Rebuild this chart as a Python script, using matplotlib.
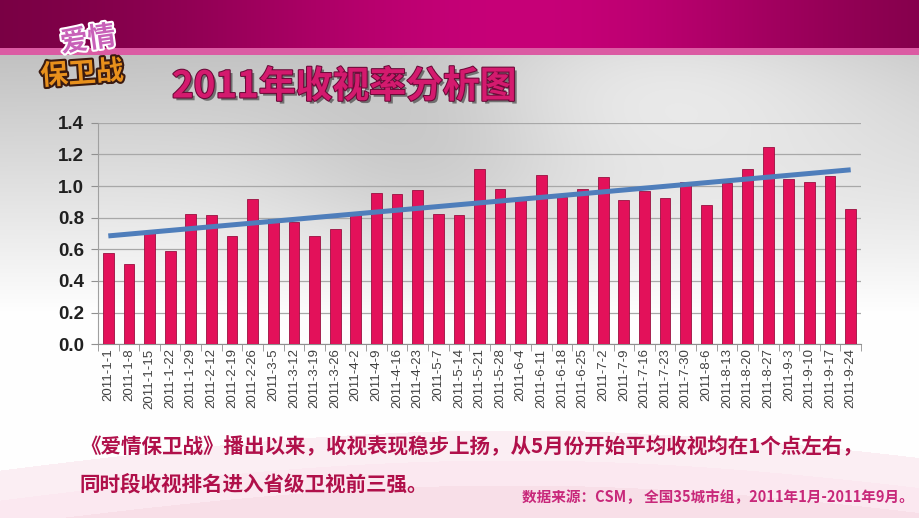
import numpy as np
import matplotlib
matplotlib.use('Agg')
import matplotlib.pyplot as plt
import matplotlib.patheffects as pe

plt.rcParams['font.family'] = ['Noto Sans CJK SC', 'DejaVu Sans']

# weekly dates (2-5 and 4-30 are missing in the source)
dates = ['2011-1-1', '2011-1-8', '2011-1-15', '2011-1-22', '2011-1-29', '2011-2-12',
         '2011-2-19', '2011-2-26', '2011-3-5', '2011-3-12', '2011-3-19', '2011-3-26',
         '2011-4-2', '2011-4-9', '2011-4-16', '2011-4-23', '2011-5-7', '2011-5-14',
         '2011-5-21', '2011-5-28', '2011-6-4', '2011-6-11', '2011-6-18', '2011-6-25',
         '2011-7-2', '2011-7-9', '2011-7-16', '2011-7-23', '2011-7-30', '2011-8-6',
         '2011-8-13', '2011-8-20', '2011-8-27', '2011-9-3', '2011-9-10', '2011-9-17',
         '2011-9-24']
ratings = [0.575, 0.505, 0.715, 0.59, 0.823, 0.817, 0.684, 0.918, 0.794, 0.775,
           0.684, 0.728, 0.817, 0.955, 0.952, 0.977, 0.823, 0.819, 1.107, 0.979,
           0.911, 1.069, 0.932, 0.983, 1.057, 0.914, 0.970, 0.922, 1.027, 0.882,
           1.021, 1.109, 1.246, 1.044, 1.023, 1.063, 0.853]
yticks = [0.0, 0.2, 0.4, 0.6, 0.8, 1.0, 1.2, 1.4]

W, H = 920, 518
fig = plt.figure(figsize=(W / 100, H / 100), dpi=100)

# ---- background (slide) ----
bg = fig.add_axes([0, 0, 1, 1], zorder=-5)
bg.axis('off')
yy, xx = np.mgrid[0:H, 0:W]
img = np.ones((H, W, 3))
# grey to white body
t = np.clip((yy - 55) / 260.0, 0, 1)
grey = 0.76 + 0.24 * t
light = np.exp(-(((xx - 640) / 280.0) ** 2 + ((yy - 70) / 100.0) ** 2))
grey = np.clip(grey + 0.13 * light, 0, 1)
dark = np.exp(-(((xx - 430) / 150.0) ** 2 + ((yy - 150) / 120.0) ** 2))
grey = np.clip(grey - 0.09 * dark, 0, 1)
for c in range(3):
    img[..., c] = grey
# magenta top band
band = yy < 48
s = np.exp(-((xx - 520) / 330.0) ** 2)
top = np.stack([0.45 + 0.33 * s, 0.0 + 0.0 * s, 0.25 + 0.22 * s], axis=-1)
img[band] = top[band]
stripe = (yy >= 48) & (yy < 55)
img[stripe] = [0.86, 0.36, 0.64]
# soft pink waves at the bottom
for k, (a, col) in enumerate([(470, (0.97, 0.84, 0.89)),
                              (490, (0.98, 0.88, 0.92)),
                              (505, (0.96, 0.82, 0.87))]):
    curve = a - 40 * np.sin((xx / W) * np.pi * 0.9) + 10 * k
    m = yy > curve
    img[m] = img[m] * 0.6 + np.array(col) * 0.4
bg.imshow(img, extent=[0, W, H, 0], aspect='auto')
bg.set_xlim(0, W)
bg.set_ylim(H, 0)

# logo
bg.text(88, 40, '爱情', fontsize=20, fontweight='bold', color='#C860B8', rotation=8,
        ha='center', va='center',
        path_effects=[pe.Stroke(linewidth=3, foreground='white'), pe.Normal()])
bg.text(82, 74, '保卫战', fontsize=20, fontweight='bold', color='#E8901C', rotation=4,
        ha='center', va='center',
        path_effects=[pe.Stroke(linewidth=3, foreground='#3A1A10'), pe.Normal()])

# title
bg.text(172, 87, '2011年收视率分析图', fontsize=26.5, fontweight='bold', color='#D41A6E',
        ha='left', va='center',
        path_effects=[pe.withSimplePatchShadow(offset=(2, -2), shadow_rgbFace='#333333', alpha=0.6),
                      pe.Stroke(linewidth=1.5, foreground='#6A0A38'), pe.Normal()])

# bottom text
bg.text(80, 447, '《爱情保卫战》播出以来，收视表现稳步上扬，从5月份开始平均收视均在1个点左右，',
        fontsize=14.8, fontweight='bold', color='#B0104A', ha='left', va='center')
bg.text(80, 484, '同时段收视排名进入省级卫视前三强。',
        fontsize=14.8, fontweight='bold', color='#B0104A', ha='left', va='center')
bg.text(914, 497, '数据来源：CSM， 全国35城市组，2011年1月-2011年9月。',
        fontsize=10.5, fontweight='bold', color='#C8287A', ha='right', va='center')

# ---- chart ----
ax = fig.add_axes([98 / W, (H - 344.3) / H, (861 - 98) / W, (344.3 - 122.7) / H])
ax.set_facecolor('none')
x = np.arange(len(dates))
ax.bar(x, ratings, width=0.52, color='#E3115A', edgecolor='#9A1040', linewidth=0.6, zorder=3)

coef = np.polyfit(x, ratings, 1)
ax.plot(x, np.polyval(coef, x), color='#4F7EBB', linewidth=3.6, solid_capstyle='butt', zorder=4)

ax.set_xlim(-0.5, len(dates) - 0.5)
ax.set_ylim(0, 1.4)
ax.set_yticks(yticks)
ax.set_yticklabels(['%.1f' % v for v in yticks], fontfamily='Liberation Sans',
                   fontweight='bold', fontsize=13.5, color='#202020')
ax.set_xticks(x)
ax.set_xticklabels(dates, rotation=90, fontfamily='Liberation Sans', fontsize=9.5, color='#404040')
ax.set_xticks(np.arange(-0.5, len(dates)), minor=True)
ax.tick_params(axis='x', which='major', length=0, pad=3)
ax.tick_params(axis='x', which='minor', length=5, color='#909090', direction='out')
ax.tick_params(axis='y', length=5, color='#909090', pad=5)
ax.grid(axis='y', color='#A8A8A8', linewidth=0.9, zorder=0)
ax.set_axisbelow(True)
for side in ['top', 'right']:
    ax.spines[side].set_visible(False)
ax.spines['left'].set_color('#A0A0A0')
ax.spines['bottom'].set_color('#909090')

fig.savefig('out.png', dpi=100)
